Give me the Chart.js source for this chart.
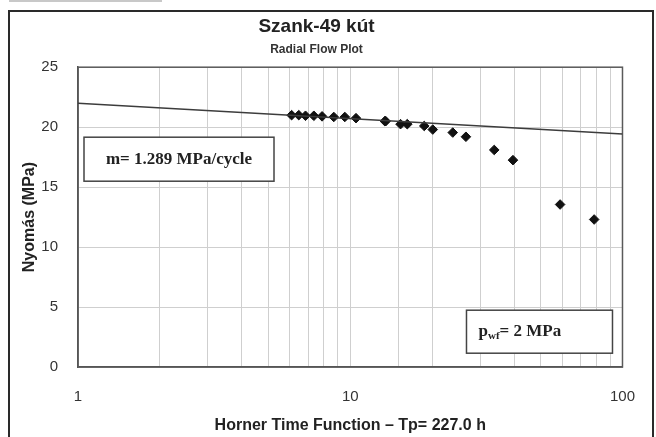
<!DOCTYPE html>
<html>
<head>
<meta charset="utf-8">
<script src="https://cdn.jsdelivr.net/npm/chart.js@4"></script>
<style>
  body { margin: 0; background: #fff; overflow: hidden; }
  #wrap { position: relative; width: 656px; height: 437px; }
  #topBar { position: absolute; left: 9px; top: 0; width: 153px; height: 2px; background: #c8c8c8; }
  #frame { position: absolute; left: 8px; top: 10px; width: 642px; height: 450px; border: 2px solid #2a2a2a; }
  canvas { position: absolute; left: 0; top: 0; }
</style>
</head>
<body>
<div id="wrap">
  <div id="topBar"></div>
  <div id="frame"></div>
  <canvas id="hornerChart" width="656" height="437"></canvas>
</div>
<script>
// measured points (Horner time function vs pressure)
const hornerTime = [6.09, 6.47, 6.85, 7.35, 7.88, 8.70, 9.55, 10.5, 13.4, 13.5, 15.3, 16.2, 18.7, 20.1, 23.8, 26.6, 33.8, 39.6, 59.0, 78.7];
const pressure = [21.0, 21.0, 20.95, 20.95, 20.9, 20.85, 20.85, 20.75, 20.5, 20.5, 20.25, 20.25, 20.1, 19.8, 19.55, 19.2, 18.1, 17.25, 13.55, 12.3];

// straight line fit, m = 1.289 MPa/cycle
const fitTime = [1, 100];
const fitPressure = [22.0, 19.42];

const xTickLabels = [1, 10, 100];
const yTicks = [0, 5, 10, 15, 20, 25];

const slopeText = "m= 1.289 MPa/cycle";
const pwfText = ["p", "wf", "= 2 MPa"];

const boxes = {
    id: "boxes",
    beforeDatasetsDraw(chart) {
        const a = chart.chartArea;
        const ctx = chart.ctx;
        ctx.save();
        ctx.strokeStyle = "#5a5a5a";
        ctx.lineWidth = 1.5;
        ctx.strokeRect(a.left, a.top, a.right - a.left, a.bottom - a.top);
        ctx.restore();
    },
    afterDraw(chart) {
        const a = chart.chartArea;
        const ctx = chart.ctx;
        ctx.save();
        ctx.fillStyle = "#fff";
        ctx.strokeStyle = "#444";
        ctx.lineWidth = 1.5;

        // slope box
        let bx = a.left + 6, by = a.top + 70;
        ctx.fillRect(bx, by, 190, 44);
        ctx.strokeRect(bx, by, 190, 44);
        ctx.fillStyle = "#222";
        ctx.font = "bold 17px 'Liberation Serif', serif";
        ctx.textAlign = "center";
        ctx.textBaseline = "middle";
        ctx.fillText(slopeText, bx + 95, by + 22);

        // pwf box
        bx = a.right - 156; by = a.top + 243;
        ctx.fillStyle = "#fff";
        ctx.fillRect(bx, by, 146, 43);
        ctx.strokeRect(bx, by, 146, 43);
        ctx.fillStyle = "#222";
        ctx.textAlign = "left";
        ctx.textBaseline = "alphabetic";
        let tx = bx + 12, ty = by + 26;
        ctx.font = "bold 17px 'Liberation Serif', serif";
        ctx.fillText(pwfText[0], tx, ty);
        tx += ctx.measureText(pwfText[0]).width;
        ctx.font = "bold 11px 'Liberation Serif', serif";
        ctx.fillText(pwfText[1], tx, ty + 3);
        tx += ctx.measureText(pwfText[1]).width;
        ctx.font = "bold 17px 'Liberation Serif', serif";
        ctx.fillText(pwfText[2], tx, ty);
        ctx.restore();
    }
};

new Chart(document.getElementById("hornerChart"), {
    type: "scatter",
    data: {
        datasets: [{
            label: "fit",
            type: "line",
            data: fitTime.map((t, i) => ({ x: t, y: fitPressure[i] })),
            borderColor: "#3c3c3c",
            borderWidth: 1.5,
            pointRadius: 0,
            fill: false
        }, {
            label: "measured",
            data: hornerTime.map((t, i) => ({ x: t, y: pressure[i] })),
            pointStyle: "rectRot",
            pointRadius: 4.8,
            backgroundColor: "#111",
            borderColor: "#111",
            borderWidth: 1
        }]
    },
    options: {
        responsive: false,
        animation: false,
        layout: { padding: { left: 9, right: 32, top: 0, bottom: 0 } },
        plugins: {
            legend: { display: false },
            tooltip: { enabled: false },
            title: {
                display: true,
                text: "Szank-49 kút",
                color: "#222",
                font: { family: "Arial, 'Liberation Sans', sans-serif", size: 19, weight: "bold" },
                padding: { top: 15, bottom: 0 }
            },
            subtitle: {
                display: true,
                text: "Radial Flow Plot",
                color: "#333",
                font: { family: "Arial, 'Liberation Sans', sans-serif", size: 12, weight: "bold" },
                padding: { top: 5, bottom: 10 }
            }
        },
        scales: {
            x: {
                type: "logarithmic",
                min: 1,
                max: 100,
                afterFit: s => { s.height = 70; },
                grid: { color: "#cfcfcf", lineWidth: 1, drawTicks: false },
                border: { color: "#4a4a4a", width: 1.5 },
                ticks: {
                    autoSkip: false,
                    maxRotation: 0,
                    padding: 21,
                    color: "#333",
                    font: { family: "Arial, 'Liberation Sans', sans-serif", size: 15 },
                    callback: v => xTickLabels.includes(v) ? String(v) : ""
                },
                title: {
                    display: true,
                    text: "Horner Time Function – Tp= 227.0 h",
                    color: "#222",
                    font: { family: "Arial, 'Liberation Sans', sans-serif", size: 16, weight: "bold" },
                    padding: { top: 0, bottom: 2 }
                }
            },
            y: {
                min: 0,
                max: 25,
                afterFit: s => { s.width = 69; },
                afterBuildTicks: s => { s.ticks = yTicks.map(v => ({ value: v })); },
                grid: { color: "#cfcfcf", lineWidth: 1, drawTicks: false },
                border: { color: "#4a4a4a", width: 1.5 },
                ticks: {
                    padding: 20,
                    color: "#333",
                    font: { family: "Arial, 'Liberation Sans', sans-serif", size: 15 }
                },
                title: {
                    display: true,
                    text: "Nyomás (MPa)",
                    color: "#222",
                    font: { family: "Arial, 'Liberation Sans', sans-serif", size: 16, weight: "bold" },
                    padding: { top: 11, bottom: 0 }
                }
            }
        }
    },
    plugins: [boxes]
});
</script>
</body>
</html>
